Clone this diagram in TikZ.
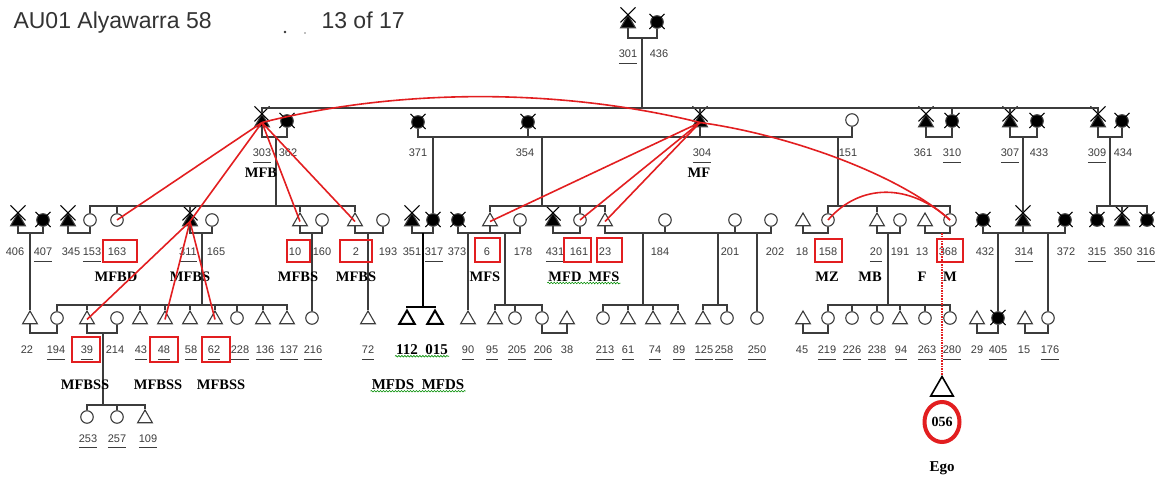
\documentclass[tikz,border=0pt]{standalone}
\usepackage{fontspec}
\setmainfont{Liberation Serif}
\setsansfont{Liberation Sans}
\usetikzlibrary{shapes.geometric,shapes.misc,decorations.pathmorphing}
\definecolor{redmark}{RGB}{226,30,32}
\definecolor{inkgray}{RGB}{60,60,60}
\newcommand{\un}[1]{\underline{\raisebox{0pt}[\height][3.5pt]{#1}}}
\begin{document}
\begin{tikzpicture}[x=1pt, y=-1pt]

\tikzstyle{male} = [draw=inkgray, regular polygon, regular polygon sides=3, minimum size=17pt, inner sep=0pt, line width=1.1pt, yshift=-1.5pt]
\tikzstyle{female} = [draw=inkgray, circle, minimum size=12.5pt, inner sep=0pt, line width=1.1pt]
\tikzstyle{xout} = [draw=black, cross out, minimum size=14pt, inner sep=0pt, line width=1.1pt]
\tikzstyle{dmale} = [male, fill=black, label={[xout, anchor=center, yshift=-1pt]90:{}}]
\tikzstyle{dfemale} = [female, fill=black, label={[xout, anchor=center, yshift=-6.25pt]90:{}}]
\tikzstyle{fam} = [line width=1.1pt, inkgray]
\tikzstyle{num} = [font=\sffamily\fontsize{11}{13}\selectfont, text=inkgray, inner sep=1pt, anchor=base]
\tikzstyle{kin} = [font=\bfseries\fontsize{14.5}{16}\selectfont, text=black, inner sep=1pt]
\tikzstyle{hl} = [draw=redmark, line width=2pt, minimum height=22pt, inner sep=0pt]
\tikzstyle{kinline} = [redmark, line width=1.6pt]
\tikzstyle{squiggle} = [green!55!black, line width=0.6pt, decorate, decoration={snake, amplitude=0.8pt, segment length=3pt}]

\useasboundingbox (0,0) rectangle (1157,478);

% --- header
\node[anchor=base west, font=\sffamily\fontsize{23}{26}\selectfont, text=black!80] (title) at (10,29) {AU01 Alyawarra 58};
\node[anchor=base west, font=\sffamily\fontsize{23}{26}\selectfont, text=black!80] (page) at (318,29) {13 of 17};
\node[circle, fill=black!80, inner sep=0.9pt] (dot1) at (285,32) {};
\node[circle, fill=black!50, inner sep=0.6pt] (dot2) at (305,33) {};

% --- generation 0
\node[dmale] (p301) at (628,22) {};
\node[dfemale] (p436) at (657,22) {};

% --- generation 1
\node[dmale] (p303) at (262,121) {};
\node[dfemale] (p362) at (287,121) {};
\node[dfemale] (p371) at (418,122) {};
\node[dfemale] (p354) at (528,122) {};
\node[dmale] (p304) at (700,121) {};
\node[female] (p151) at (852,120) {};
\node[dmale] (p361) at (926,121) {};
\node[dfemale] (p310) at (952,121) {};
\node[dmale] (p307) at (1010,121) {};
\node[dfemale] (p433) at (1037,121) {};
\node[dmale] (p309) at (1098,121) {};
\node[dfemale] (p434) at (1122,121) {};

% --- generation 2
\foreach \x/\n in {18/406, 68/345, 190/311, 412/351, 553/431, 1023/314, 1122/350}
  \node[dmale] (p\n) at (\x,220) {};
\foreach \x/\n in {43/407, 433/317, 458/373, 983/432, 1065/372, 1097/315, 1147/316}
  \node[dfemale] (p\n) at (\x,220) {};
\foreach \x/\n in {300/10, 355/2, 490/6, 605/23, 803/18, 877/20, 925/13}
  \node[male] (p\n) at (\x,220) {};
\foreach \x/\n in {90/153, 117/163, 212/165, 322/160, 383/193, 520/178, 580/161, 665/184, 735/201, 771/202, 828/158, 900/191, 950/368}
  \node[female] (p\n) at (\x,220) {};

% --- generation 3
\foreach \x/\n in {30/22, 87/39, 140/43, 165/48, 190/58, 215/62, 263/136, 287/137, 368/72, 468/90, 495/95, 567/38, 628/61, 653/74, 678/89, 703/125, 803/45, 900/94, 977/29, 1025/15}
  \node[male] (p\n) at (\x,318) {};
\foreach \x/\n in {57/194, 117/214, 237/228, 312/216, 515/205, 542/206, 603/213, 727/258, 757/250, 828/219, 852/226, 877/238, 925/263, 950/280, 1048/176}
  \node[female] (p\n) at (\x,318) {};
\node[dfemale] (p405) at (998,318) {};
\node[male, draw=black, line width=2pt, minimum size=18pt] (p112) at (407,318) {};
\node[male, draw=black, line width=2pt, minimum size=18pt] (p015) at (435,318) {};

% --- generation 4
\node[female] (p253) at (87,417) {};
\node[female] (p257) at (117,417) {};
\node[male] (p109) at (145,417) {};

% --- ego
\node[male, minimum size=26pt, draw=black, line width=1.6pt] (ego) at (942,388) {};
\node[ellipse, draw=redmark, line width=4pt, minimum width=35pt, minimum height=40pt, inner sep=0pt, font=\bfseries\fontsize{14}{16}\selectfont] (e056) at (942,422) {056};
\node[kin, font=\bfseries\fontsize{15}{17}\selectfont] (kEgo) at (942,468) {Ego};

% --- marriage and sibling points
\coordinate (m301) at (642,38);  \coordinate (s301) at (642,108);
\coordinate (m303) at (276,137); \coordinate (s303) at (276,206);
\coordinate (m371) at (433,137);
\coordinate (m354) at (542,137); \coordinate (s354) at (542,206);
\coordinate (m151) at (838,137); \coordinate (s151) at (838,206);
\coordinate (m361) at (939,137);
\coordinate (m307) at (1023,137);
\coordinate (m309) at (1110,137); \coordinate (s309) at (1110,206);
\coordinate (m406) at (30,233);
\coordinate (m345) at (79,233);
\coordinate (m311) at (202,233); \coordinate (s311) at (202,305);
\coordinate (m10) at (312,233);
\coordinate (m2) at (368,233);
\coordinate (m351) at (423,233); \coordinate (s351) at (423,307);
\coordinate (m373) at (468,233);
\coordinate (m6) at (505,233);   \coordinate (s6) at (505,305);
\coordinate (m431) at (566,233);
\coordinate (m23a) at (643,233); \coordinate (s23a) at (643,305);
\coordinate (m23b) at (718,233); \coordinate (s23b) at (718,305);
\coordinate (m23c) at (757,233);
\coordinate (m18) at (815,233);
\coordinate (m20) at (888,233);  \coordinate (s20) at (888,305);
\coordinate (m13) at (942,233);
\coordinate (m432) at (998,233);
\coordinate (m372) at (1048,233);
\coordinate (m22) at (43,333);
\coordinate (m39) at (103,333);  \coordinate (s39) at (103,405);
\coordinate (m206) at (555,333);
\coordinate (m45) at (815,333);
\coordinate (m29) at (988,333);
\coordinate (m15) at (1036,333);

% --- marriages
\foreach \a/\b/\m in {301/436/m301, 303/362/m303, 371/151/m371, 361/310/m361, 307/433/m307, 309/434/m309,
    406/407/m406, 345/153/m345, 311/165/m311, 10/160/m10, 2/193/m2, 351/317/m351, 373/178/m373,
    431/161/m431, 23/202/m23a, 18/158/m18, 20/191/m20, 13/368/m13, 432/372/m432,
    22/194/m22, 39/214/m39, 206/38/m206, 45/219/m45, 29/405/m29, 15/176/m15}
  \draw[fam] (p\a.south) |- (\m) -| (p\b.south);
\foreach \n/\m in {354/m371, 304/m371, 6/m373, 184/m23a, 201/m23a, 314/m432}
  \draw[fam] (p\n.south) -- (p\n.south |- \m);

% --- descent lines
\foreach \a/\b in {m301/s301, m303/s303, m371/p317.north, m354/s354, m151/s151, m307/p314.north, m309/s309,
    m406/p22.north, m311/s311, m10/p216.north, m2/p72.north, m373/p90.north, m6/s6,
    m23a/s23a, m23b/s23b, m23c/p250.north, m20/s20, m432/p405.north, m372/p176.north, m39/s39}
  \draw[fam] (\a) -- (\b);

% --- sibling lines
\foreach \s/\a/\b in {s301/303/309, s303/153/2, s354/6/23, s151/158/368, s309/315/316, s311/194/137,
    s6/95/206, s23a/213/89, s23b/125/258, s20/219/280, s39/253/109}
  \draw[fam] (p\a.north) |- (\s) -| (p\b.north);
\foreach \s/\n in {s301/304, s301/310, s301/307, s303/163, s303/311, s303/10, s354/161, s151/20, s309/350,
    s311/39, s311/43, s311/48, s311/58, s311/62, s311/228, s311/136, s6/205, s23a/61, s23a/74,
    s20/226, s20/238, s20/94, s20/263, s39/257}
  \draw[fam] (p\n.north) -- (p\n.north |- \s);

% --- added sons of 317
\draw[fam, black, line width=2pt] (m351) -- (s351);
\draw[fam, black, line width=2pt] (p112.north) |- (s351) -| (p015.north);

% --- numbers
\node[num] (n301) at (628,58) {\un{301}};
\node[num] (n436) at (659,58) {436};
\foreach \x/\t in {288/362, 418/371, 525/354, 848/151, 923/361, 1039/433, 1123/434}
  \node[num] (n\t) at (\x,157) {\t};
\foreach \x/\t in {262/303, 702/304, 952/310, 1010/307, 1097/309}
  \node[num] (n\t) at (\x,157) {\un{\t}};
\foreach \x/\t in {15/406, 71/345, 216/165, 322/160, 388/193, 412/351, 457/373, 523/178, 660/184, 730/201,
    775/202, 802/18, 900/191, 922/13, 985/432, 1066/372, 1123/350}
  \node[num] (n\t) at (\x,256) {\t};
\foreach \x/\t in {43/407, 92/153, 117/163, 188/311, 295/10, 356/2, 434/317, 487/6, 555/431, 579/161,
    605/23, 828/158, 876/20, 948/368, 1024/314, 1097/315, 1146/316}
  \node[num] (n\t) at (\x,256) {\un{\t}};
\foreach \x/\t in {27/22, 115/214, 567/38, 802/45, 977/29, 1024/15}
  \node[num] (n\t) at (\x,354) {\t};
\foreach \x/\t in {56/194, 87/39, 141/43, 164/48, 191/58, 214/62, 240/228, 265/136, 289/137, 313/216,
    368/72, 468/90, 492/95, 517/205, 543/206, 605/213, 628/61, 655/74, 679/89, 704/125, 724/258,
    757/250, 827/219, 852/226, 877/238, 901/94, 927/263, 952/280, 998/405, 1050/176}
  \node[num] (n\t) at (\x,354) {\un{\t}};
\foreach \x/\t in {88/253, 117/257, 148/109}
  \node[num] (n\t) at (\x,442) {\un{\t}};

% --- red boxes
\node[hl, minimum width=34pt] (b163) at (120,251) {};
\node[hl, minimum width=23pt] (b10) at (298,251) {};
\node[hl, minimum width=32pt] (b2) at (356,251) {};
\node[hl, minimum width=25pt, minimum height=24pt] (b6) at (487,250) {};
\node[hl, minimum width=27pt, minimum height=24pt] (b161) at (577,250) {};
\node[hl, minimum width=25pt, minimum height=24pt] (b23) at (609,250) {};
\node[hl, minimum width=27pt, minimum height=23pt] (b158) at (828,251) {};
\node[hl, minimum width=26pt, minimum height=23pt] (b368) at (950,251) {};
\node[hl, minimum width=28pt, minimum height=25pt] (b39) at (86,350) {};
\node[hl, minimum width=28pt, minimum height=25pt] (b48) at (164,350) {};
\node[hl, minimum width=28pt, minimum height=25pt] (b62) at (216,350) {};

% --- kin terms
\node[kin] (kMFB) at (261,173) {MFB};
\node[kin] (kMF) at (699,173) {MF};
\node[kin] (kMFBD) at (116,277) {MFBD};
\node[kin] (kMFBS1) at (190,277) {MFBS};
\node[kin] (kMFBS2) at (298,277) {MFBS};
\node[kin] (kMFBS3) at (356,277) {MFBS};
\node[kin] (kMFS1) at (485,277) {MFS};
\node[kin] (kMFD) at (565,277) {MFD};
\node[kin] (kMFS2) at (604,277) {MFS};
\node[kin] (kMZ) at (827,277) {MZ};
\node[kin] (kMB) at (870,277) {MB};
\node[kin] (kF) at (922,277) {F};
\node[kin] (kM) at (950,277) {M};
\node[kin] (kMFBSS1) at (85,385) {MFBSS};
\node[kin] (kMFBSS2) at (158,385) {MFBSS};
\node[kin] (kMFBSS3) at (221,385) {MFBSS};
\node[kin, font=\bfseries\fontsize{15}{17}\selectfont] (t112) at (422,350) {112\ \ 015};
\node[kin, font=\bfseries\fontsize{15}{17}\selectfont] (kMFDS) at (418,385) {MFDS\ \ MFDS};

% --- spell-check marks
\draw[squiggle] (t112.south west) -- (t112.south east);
\draw[squiggle] (kMFDS.south west) -- (kMFDS.south east);
\draw[squiggle] (kMFD.south west) -- (kMFS2.south east);

% --- red links
\draw[kinline] (p303.center) .. controls (400,88) and (560,88) .. (p304.center);
\foreach \n in {163,311,10,2}
  \draw[kinline] (p303.center) -- (p\n.center);
\foreach \n in {39,48,62}
  \draw[kinline] (p311.center) -- (p\n.center);
\foreach \n in {6,161,23}
  \draw[kinline] (p304.center) -- (p\n.center);
\draw[kinline] (p304.center) .. controls (790,135) and (900,175) .. (p368.center);
\draw[kinline] (p158.center) .. controls (860,183) and (910,183) .. (p368.center);
\draw[kinline, densely dotted, line width=1.3pt] (m13) -- (ego.north);

\end{tikzpicture}
\end{document}
